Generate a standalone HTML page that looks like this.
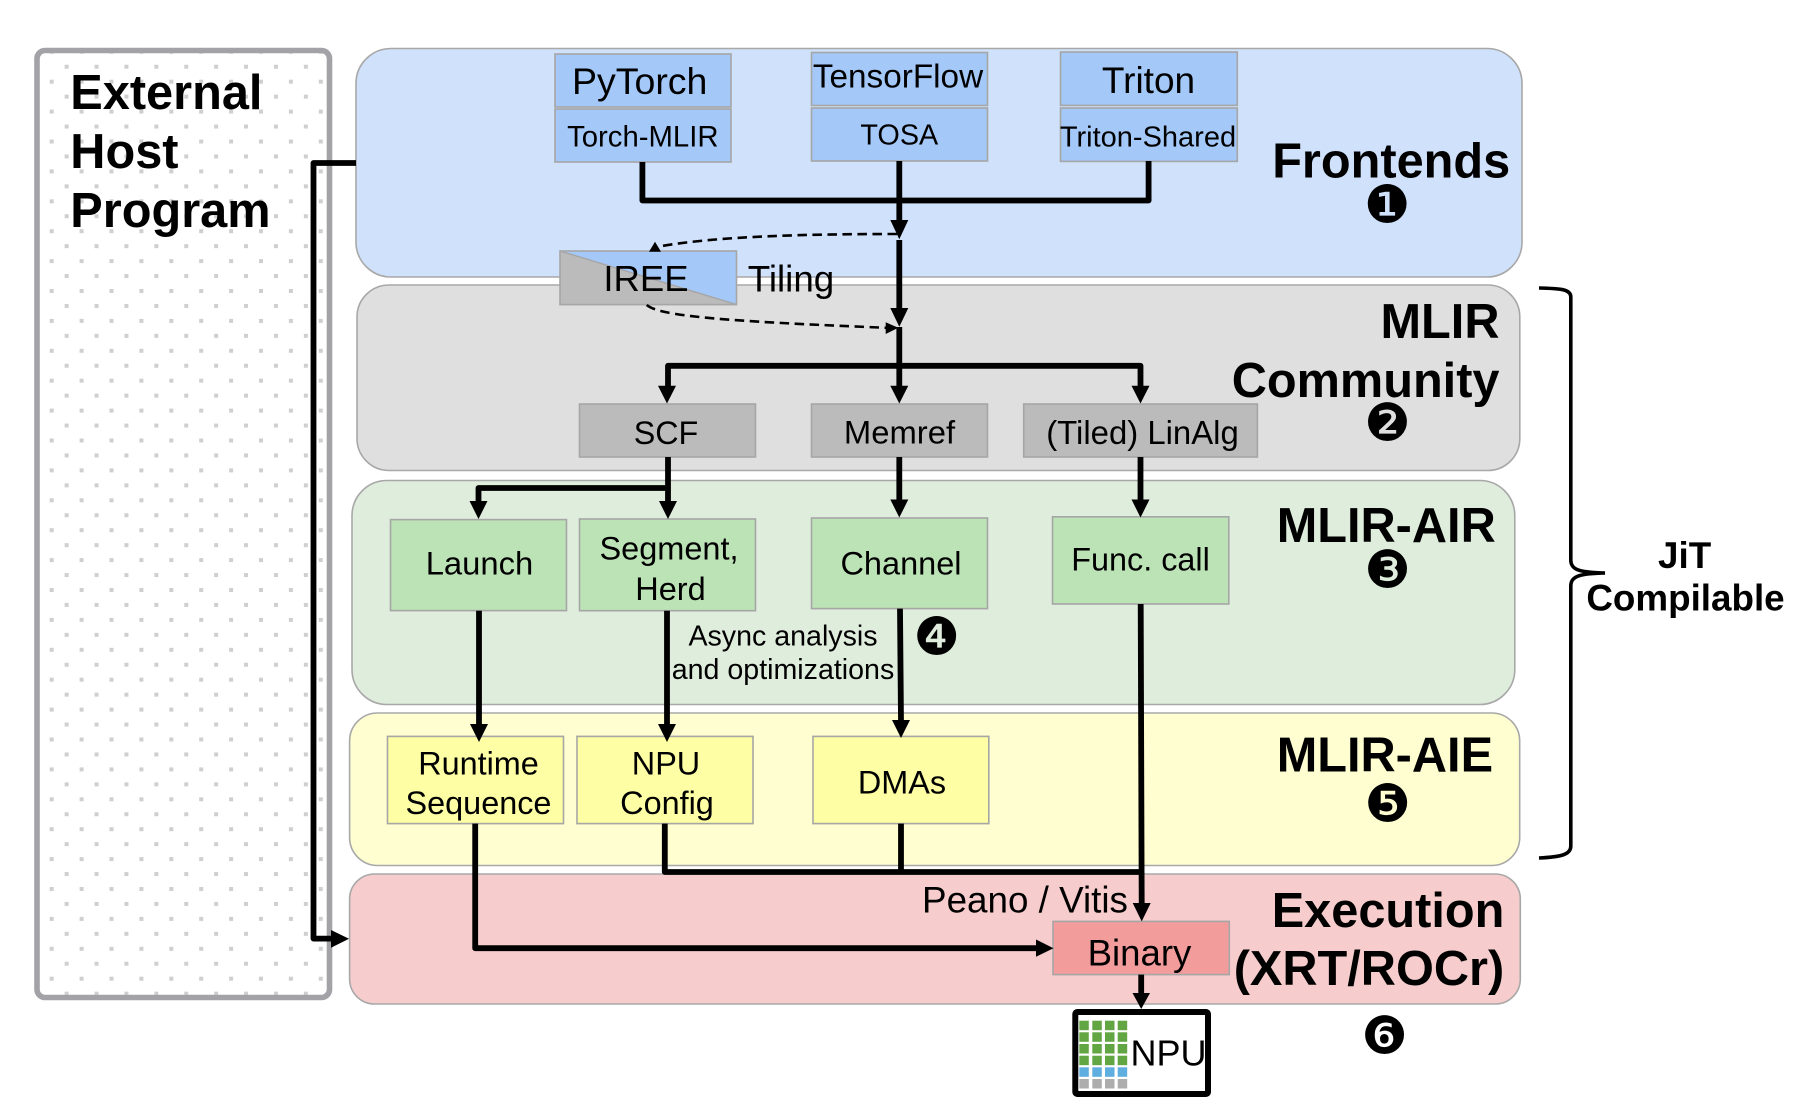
<!DOCTYPE html>
<html><head><meta charset="utf-8"><style>
html,body{margin:0;padding:0;background:#fff}
svg{display:block}
text{font-family:"Liberation Sans",sans-serif;fill:#000}
.b{font-weight:700;font-size:48.7px}
.m{text-anchor:middle}
.c{font-family:"DejaVu Sans",sans-serif;font-size:52px;text-anchor:middle}
.bx{stroke:#a6a6a6;stroke-width:1.6}
.r{stroke:#a8a8a8;stroke-width:1.6}
.l{fill:none;stroke:#000;stroke-width:5.8;stroke-linejoin:round}
</style></head><body>
<svg width="1798" height="1110" viewBox="0 0 1798 1110" xmlns="http://www.w3.org/2000/svg">
<defs><pattern id="d" patternUnits="userSpaceOnUse" width="29.9" height="29.9" x="49.7" y="49.8">
<rect x="0" y="0" width="4" height="4" fill="#cfcfcf"/><rect x="14.95" y="14.95" width="4" height="4" fill="#cfcfcf"/></pattern></defs>
<rect width="1798" height="1110" fill="#fff"/>
<rect x="37" y="50.5" width="292.5" height="947" rx="8" fill="#fff"/>
<rect x="37" y="50.5" width="292.5" height="947" rx="8" fill="url(#d)" stroke="#a3a3a7" stroke-width="5.6"/>

<rect class="r" x="356" y="48.5" width="1166" height="228.5" rx="35" fill="#d0e2fb"/>
<rect class="r" x="357" y="285" width="1162.8" height="185.5" rx="32" fill="#dfdfdf"/>
<rect class="r" x="352" y="480.5" width="1162.8" height="224" rx="35" fill="#dfeddd"/>
<rect class="r" x="349.6" y="713" width="1170.1" height="152.5" rx="28" fill="#fefed0"/>
<rect class="r" x="349.6" y="874" width="1170.7" height="130" rx="25" fill="#f6cccc"/>

<g class="bx" fill="#a4c8f8">
<rect x="555" y="54" width="176" height="53"/><rect x="555" y="109" width="176" height="53"/>
<rect x="811.5" y="52.5" width="176" height="53"/><rect x="811.5" y="108" width="176" height="53"/>
<rect x="1060.5" y="52" width="176.8" height="53.4"/><rect x="1060.5" y="108" width="176.8" height="53.4"/>
</g>
<polygon points="560,251 736.5,251 736.5,304.6" fill="#a4c8f8"/>
<polygon points="560,251 736.5,304.6 560,304.6" fill="#bbb"/>
<rect class="bx" x="560" y="251" width="176.5" height="53.6" fill="none"/>
<line x1="560" y1="251" x2="736.5" y2="304.6" stroke="#a6a6a6" stroke-width="1.4"/>
<g class="bx" fill="#bbb">
<rect x="579.5" y="404" width="176" height="53"/><rect x="811.5" y="404" width="176" height="53"/><rect x="1023.7" y="404" width="233.7" height="53"/>
</g>
<g class="bx" fill="#bce3b6">
<rect x="390.5" y="519.6" width="176" height="91"/><rect x="579.5" y="519" width="176" height="91.7"/>
<rect x="811.5" y="518" width="176" height="90.6"/><rect x="1052.5" y="516.8" width="176.3" height="87.2"/>
</g>
<g class="bx" fill="#fefea4">
<rect x="387.5" y="736.4" width="176" height="87.2"/><rect x="577" y="736.4" width="176" height="87.2"/><rect x="813" y="736.4" width="175.8" height="87.2"/>
</g>
<rect class="bx" x="1053" y="921.4" width="176.3" height="53.2" fill="#f29c9c"/>

<!-- connectors -->
<path class="l" d="M642.4 162V200.5H1148.6V161"/>
<path class="l" d="M899.3 161V224"/>
<polygon points="890.3,220 908.3,220 899.3,239.3"/>
<path class="l" d="M899.3 240V312"/>
<polygon points="890.3,308 908.3,308 899.3,326.7"/>
<path class="l" d="M899.3 327V388"/>
<polygon points="890.3,385.7 908.3,385.7 899.3,403.5"/>
<path class="l" d="M668 388V365.8H1140.5V388"/>
<polygon points="658,385.7 676,385.7 667,403.5"/>
<polygon points="1131.5,385.7 1149.5,385.7 1140.5,403.5"/>
<path class="l" d="M668 457V502"/>
<polygon points="659,501 677,501 668,519"/>
<path class="l" d="M668 488H478.5V503"/>
<polygon points="469.5,501 487.5,501 478.5,519"/>
<path class="l" d="M899.3 457V501"/>
<polygon points="890.3,499.5 908.3,499.5 899.3,517.5"/>
<path class="l" d="M1140.5 457V501"/>
<polygon points="1131.5,499.5 1149.5,499.5 1140.5,517.5"/>
<path class="l" d="M479 610.7V727"/>
<polygon points="470,724 488,724 479,742"/>
<path class="l" d="M667 610.7V727"/>
<polygon points="658,724 676,724 667,742"/>
<path class="l" d="M900 608.6L901 722"/>
<polygon points="892,720 910,720 901,738"/>
<path class="l" d="M1140.7 604L1141.7 905"/>
<polygon points="1132.7,903 1150.7,903 1141.7,921.4"/>
<path class="l" d="M475.2 823.6V948.2H1040"/>
<polygon points="1036,939.5 1036,956.7 1053.5,948.2"/>
<path class="l" d="M664.8 823.6V872H1140"/>
<path class="l" d="M901 823.6V872"/>
<path class="l" d="M1141.2 974.6V996"/>
<polygon points="1132.5,993 1150,993 1141.2,1009"/>
<path class="l" d="M356 163H313.5V938.6H334"/>
<polygon points="331,930 331,947.7 349,938.8"/>

<!-- dashed -->
<path d="M897 234C810 234 720 236 662 246" fill="none" stroke="#000" stroke-width="2.6" stroke-dasharray="9.5 5.5"/>
<polygon points="655,241.7 649,251.7 661,251.7"/>
<path d="M646.7 305C660 316 720 321 886 327.8" fill="none" stroke="#000" stroke-width="2.6" stroke-dasharray="9.5 5.5"/>
<polygon points="885.7,322.3 885.7,334 898.3,327.8"/>

<!-- brace -->
<path d="M1539 288C1560 288.5 1570.8 289 1570.8 297V560C1570.8 570 1580 572.5 1605 573C1580 573.5 1570.8 576 1570.8 586V846C1570.8 855 1560 857 1539 858" fill="none" stroke="#000" stroke-width="3.6"/>

<!-- titles -->
<text class="b" x="70.3" y="109">External</text>
<text class="b" x="70.3" y="168">Host</text>
<text class="b" x="70.3" y="227">Program</text>
<text class="b" x="1272.2" y="177.5">Frontends</text>
<text class="b" x="1499.5" y="338" text-anchor="end">MLIR</text>
<text class="b" x="1499.5" y="397" text-anchor="end">Community</text>
<text class="b" x="1276.7" y="542">MLIR-AIR</text>
<text class="b" x="1276.7" y="771.5">MLIR-AIE</text>
<text class="b" x="1271.7" y="927">Execution</text>
<text class="b" x="1233.7" y="985">(XRT/ROCr)</text>
<text class="b m" x="1684.6" y="568" style="font-size:36.8px">JiT</text>
<text class="b m" x="1685.5" y="610.7" style="font-size:36.8px">Compilable</text>

<text class="c" x="1387.3" y="222.7">❶</text>
<text class="c" x="1387.4" y="440.7">❷</text>
<text class="c" x="1387.4" y="587.3">❸</text>
<text class="c" x="936.7" y="654.7">❹</text>
<text class="c" x="1387.6" y="821.7">❺</text>
<text class="c" x="1384.5" y="1053.3">❻</text>

<!-- labels -->
<g class="m">
<text x="639.7" y="94" font-size="37.5">PyTorch</text>
<text x="642.8" y="146.4" font-size="29.3">Torch-MLIR</text>
<text x="898" y="87.5" font-size="33.3">TensorFlow</text>
<text x="899.3" y="144.6" font-size="28.8">TOSA</text>
<text x="1148.5" y="93" font-size="37">Triton</text>
<text x="1148" y="146.5" font-size="29">Triton-Shared</text>
<text x="646" y="291" font-size="36.5">IREE</text>
<text x="791" y="291.5" font-size="36.8">Tiling</text>
<text x="666" y="444" font-size="32.3">SCF</text>
<text x="899.5" y="443.5" font-size="32.8">Memref</text>
<text x="1142.5" y="444" font-size="32.9">(Tiled) LinAlg</text>
<text x="479.5" y="574.3" font-size="32.8">Launch</text>
<text x="669" y="559.5" font-size="32.5">Segment,</text>
<text x="670.5" y="600" font-size="32.5">Herd</text>
<text x="901" y="574.5" font-size="32.5">Channel</text>
<text x="1140.5" y="570.7" font-size="32.4">Func. call</text>
<text x="783" y="645.5" font-size="28.6">Async analysis</text>
<text x="783" y="679" font-size="28.6">and optimizations</text>
<text x="478.5" y="774.3" font-size="32.4">Runtime</text>
<text x="478.5" y="813.8" font-size="32.4">Sequence</text>
<text x="666" y="774.3" font-size="32.4">NPU</text>
<text x="667" y="813.8" font-size="32.4">Config</text>
<text x="902" y="793.3" font-size="32.4">DMAs</text>
<text x="1025" y="912.5" font-size="36.8">Peano / Vitis</text>
<text x="1139.5" y="965.4" font-size="36.6">Binary</text>
</g>

<!-- NPU -->
<rect x="1075.3" y="1012" width="132.7" height="82" rx="2" fill="#fff" stroke="#000" stroke-width="6"/>
<g fill="#62a644">
<rect x="1079.3" y="1020.7" width="9.5" height="9.5"/><rect x="1092.3" y="1020.7" width="9.5" height="9.5"/><rect x="1105" y="1020.7" width="9.5" height="9.5"/><rect x="1117.7" y="1020.7" width="9.5" height="9.5"/>
<rect x="1079.3" y="1032.3" width="9.5" height="9.5"/><rect x="1092.3" y="1032.3" width="9.5" height="9.5"/><rect x="1105" y="1032.3" width="9.5" height="9.5"/><rect x="1117.7" y="1032.3" width="9.5" height="9.5"/>
<rect x="1079.3" y="1044" width="9.5" height="9.5"/><rect x="1092.3" y="1044" width="9.5" height="9.5"/><rect x="1105" y="1044" width="9.5" height="9.5"/><rect x="1117.7" y="1044" width="9.5" height="9.5"/>
<rect x="1079.3" y="1055.7" width="9.5" height="9.5"/><rect x="1092.3" y="1055.7" width="9.5" height="9.5"/><rect x="1105" y="1055.7" width="9.5" height="9.5"/><rect x="1117.7" y="1055.7" width="9.5" height="9.5"/>
</g>
<g fill="#5eaee0">
<rect x="1079.3" y="1067.3" width="9.5" height="9.5"/><rect x="1092.3" y="1067.3" width="9.5" height="9.5"/><rect x="1105" y="1067.3" width="9.5" height="9.5"/><rect x="1117.7" y="1067.3" width="9.5" height="9.5"/>
</g>
<g fill="#adadad">
<rect x="1079.3" y="1079" width="9.5" height="9.5"/><rect x="1092.3" y="1079" width="9.5" height="9.5"/><rect x="1105" y="1079" width="9.5" height="9.5"/><rect x="1117.7" y="1079" width="9.5" height="9.5"/>
</g>
<text x="1130.5" y="1065.7" font-size="36">NPU</text>
</svg>
</body></html>
